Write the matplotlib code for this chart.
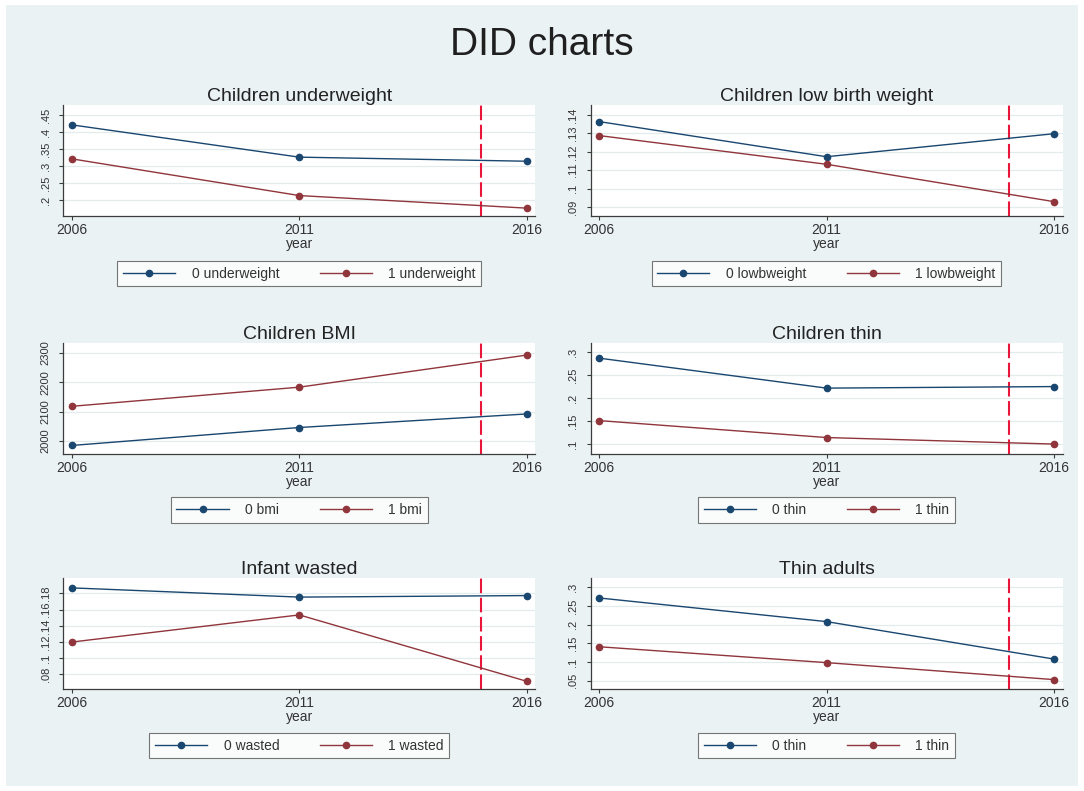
import matplotlib
matplotlib.use("Agg")
import matplotlib.pyplot as plt
from matplotlib.patches import Rectangle
from matplotlib.lines import Line2D

plt.rcParams['font.family'] = ['Liberation Sans', 'DejaVu Sans']

# ---- data -------------------------------------------------------------
years = [2006, 2011, 2016]
treat_year = 2015

underweight0 = [0.421, 0.326, 0.314]
underweight1 = [0.321, 0.213, 0.176]

lowbw0 = [0.1364, 0.1173, 0.1298]
lowbw1 = [0.1288, 0.1132, 0.0929]

bmi0 = [1985, 2046, 2092]
bmi1 = [2118, 2183, 2292]

thin0 = [0.2876, 0.222, 0.2254]
thin1 = [0.151, 0.1139, 0.0996]

wasted0 = [0.1869, 0.1755, 0.1774]
wasted1 = [0.1200, 0.1535, 0.0715]

adults0 = [0.2711, 0.2078, 0.1075]
adults1 = [0.1405, 0.0980, 0.0525]

titles = ["Children underweight", "Children low birth weight", "Children BMI",
          "Children thin", "Infant wasted", "Thin adults"]
legend_names = ["underweight", "lowbweight", "bmi", "thin", "wasted", "thin"]
series0 = [underweight0, lowbw0, bmi0, thin0, wasted0, adults0]
series1 = [underweight1, lowbw1, bmi1, thin1, wasted1, adults1]

yticks = [
    [0.2, 0.25, 0.3, 0.35, 0.4, 0.45],
    [0.09, 0.1, 0.11, 0.12, 0.13, 0.14],
    [2000, 2100, 2200, 2300],
    [0.1, 0.15, 0.2, 0.25, 0.3],
    [0.08, 0.1, 0.12, 0.14, 0.16, 0.18],
    [0.05, 0.1, 0.15, 0.2, 0.25, 0.3],
]
ylims = [(0.1529, 0.4794), (0.0851, 0.1454), (1956, 2333),
         (0.0779, 0.3207), (0.062, 0.1991), (0.0274, 0.3245)]

# ---- style ------------------------------------------------------------
W, H = 1084, 791
BG = "#EAF2F3"
C0 = "#1A476F"
C1 = "#90353B"
GRID = "#E3EBED"
AXC = "#3C3C3C"
VLINE = "#E8173A"


def stata_fmt(v):
    if float(v).is_integer():
        return str(int(v))
    s = ("%g" % v)
    if s.startswith("0."):
        s = s[1:]
    return s


fig = plt.figure(figsize=(W / 100, H / 100), dpi=100, facecolor="white")
fig.patches.append(Rectangle((6 / W, 5 / H), (W - 12) / W, (H - 10) / H,
                             transform=fig.transFigure, facecolor=BG,
                             edgecolor="none", zorder=-10))

fig.text(0.5, 1 - 45 / H, "DID charts", ha="center", va="center",
         fontsize=28, color="#1F1F1F")

col_left = [63.3, 590.5]
ax_w = 472
row_top = [105, 343, 578]
ax_h = 111
legend_cy = [273.8, 510, 745.8]

for i in range(6):
    r, c = divmod(i, 2)
    left = col_left[c]
    top = row_top[r]
    ax = fig.add_axes([left / W, 1 - (top + ax_h) / H, ax_w / W, ax_h / H])
    ax.set_facecolor("white")

    ax.set_xlim(2005.813, 2005.813 + ax_w / 45.5)
    ax.set_ylim(*ylims[i])

    ax.set_yticks(yticks[i])
    ax.set_yticklabels([stata_fmt(v) for v in yticks[i]], rotation=90,
                       va="center", fontsize=8, color="#333333")
    ax.set_xticks(years)
    ax.set_xticklabels([str(y) for y in years], fontsize=10, color="#333333")

    ax.grid(axis="y", color=GRID, lw=0.9)
    ax.set_axisbelow(True)
    for s in ("top", "right"):
        ax.spines[s].set_visible(False)
    for s in ("left", "bottom"):
        ax.spines[s].set_color(AXC)
        ax.spines[s].set_linewidth(0.9)
    ax.tick_params(axis="y", length=3, width=0.8, color=AXC, pad=6)
    ax.tick_params(axis="x", length=3, width=0.8, color=AXC, pad=2)

    ax.axvline(treat_year, color=VLINE, lw=1.5, linestyle=(0, (7, 2.2)),
               zorder=1)

    ax.plot(years, series0[i], color=C0, lw=1.0, marker="o", ms=4.5,
            zorder=3)
    ax.plot(years, series1[i], color=C1, lw=1.0, marker="o", ms=4.5,
            zorder=3)

    ax.set_title(titles[i], fontsize=14, color="#222222", pad=3)
    ax.set_xlabel("year", fontsize=10, color="#333333", labelpad=0)

    handles = [Line2D([], [], color=C0, lw=1.0, marker="o", ms=4.5),
               Line2D([], [], color=C1, lw=1.0, marker="o", ms=4.5)]
    labels = ["0 " + legend_names[i], "1 " + legend_names[i]]
    cx = (left + ax_w / 2) / W
    cy = 1 - legend_cy[r] / H
    leg = fig.legend(handles, labels, loc="center", bbox_to_anchor=(cx, cy),
                     ncol=2, fontsize=10, frameon=True, fancybox=False,
                     handlelength=3.75, handletextpad=1.2, columnspacing=2.9,
                     borderpad=0.4)
    fr = leg.get_frame()
    fr.set_edgecolor("#555555")
    fr.set_linewidth(0.8)
    fr.set_facecolor("white")
    for t in leg.get_texts():
        t.set_color("#333333")

fig.savefig("out.png", dpi=100, facecolor=fig.get_facecolor())
